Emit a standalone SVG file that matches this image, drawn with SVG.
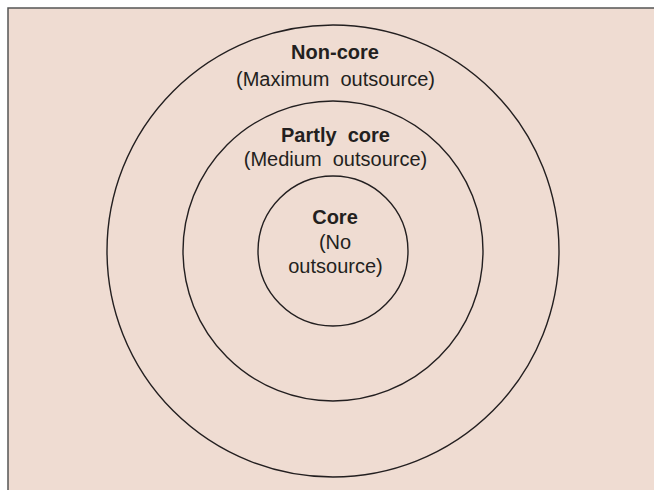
<svg xmlns="http://www.w3.org/2000/svg" width="654" height="490" viewBox="0 0 654 490">
<style>
.ring{fill:none;stroke:#231f20;stroke-width:1.4}
text{font-family:"Liberation Sans",Arial,sans-serif;font-size:20px;fill:#231f20;text-anchor:middle}
.b{font-weight:bold}
</style>
<rect x="0" y="0" width="654" height="490" fill="#ffffff"/>
<rect x="8" y="8" width="660" height="500" fill="#efdcd2" stroke="#555555" stroke-width="1.5"/>
<g id="non-core">
<circle class="ring" cx="333" cy="251" r="226"/>
<text class="b" x="335" y="59">Non-core</text>
<text x="335.5" y="86" xml:space="preserve">(Maximum  outsource)</text>
</g>
<g id="partly-core">
<circle class="ring" cx="333" cy="251" r="150"/>
<text class="b" x="335.5" y="142" xml:space="preserve">Partly  core</text>
<text x="335.5" y="166" xml:space="preserve">(Medium  outsource)</text>
</g>
<g id="core">
<circle class="ring" cx="333" cy="251" r="75"/>
<text class="b" x="335" y="224">Core</text>
<text x="335" y="249">(No</text>
<text x="335.5" y="273">outsource)</text>
</g>
<g id="connectors"></g>
</svg>
